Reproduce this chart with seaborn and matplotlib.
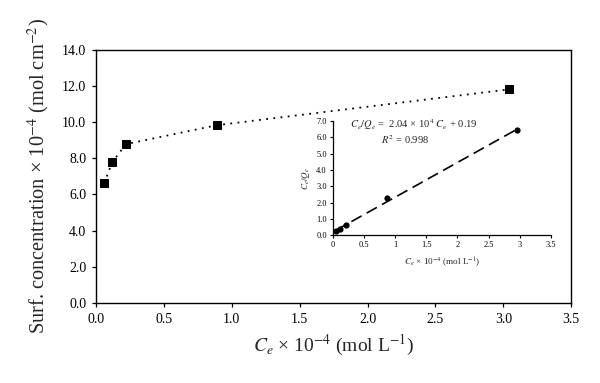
import matplotlib
matplotlib.use("Agg")
import matplotlib.pyplot as plt
import seaborn as sns
import pandas as pd

# Main isotherm data
ce_main = [0.06, 0.12, 0.22, 0.89, 3.04]
surf_conc = [6.62, 7.79, 8.78, 9.83, 11.81]

# Inset linearised (Langmuir) data
ce_inset = [0.05, 0.11, 0.21, 0.87, 2.96]
ce_over_qe = [0.25, 0.38, 0.62, 2.25, 6.45]

main_yticks = [0, 2, 4, 6, 8, 10, 12, 14]
main_xticks = [0, 0.5, 1.0, 1.5, 2.0, 2.5, 3.0, 3.5]
inset_xticks = [0, 0.5, 1, 1.5, 2, 2.5, 3, 3.5]
inset_xticklabels = ["0", "0.5", "1", "1.5", "2", "2.5", "3", "3.5"]
inset_yticks = [0, 1, 2, 3, 4, 5, 6, 7]

sns.set_theme(style="ticks")
plt.rcParams["font.family"] = ["Liberation Serif", "DejaVu Serif"]
plt.rcParams["mathtext.fontset"] = "stix"

fig = plt.figure(figsize=(6.0, 3.83), dpi=100)
ax = fig.add_axes([0.160, 0.209, 0.792, 0.661])

df_main = pd.DataFrame({"x": ce_main, "y": surf_conc})
sns.lineplot(data=df_main, x="x", y="y", ax=ax, color="black", linestyle=(0, (1, 3)),
             linewidth=1.3, marker="s", markersize=5.6, markeredgecolor="black",
             markerfacecolor="black")

ax.set_xlim(0, 3.5)
ax.set_ylim(0, 14)
ax.set_xticks(main_xticks)
ax.set_xticklabels([f"{v:.1f}" for v in main_xticks])
ax.set_yticks(main_yticks)
ax.set_yticklabels([f"{v:.1f}" for v in main_yticks])
ax.tick_params(axis="both", direction="out", length=3, width=0.9, labelsize=10, colors="black", pad=4)
for s in ax.spines.values():
    s.set_linewidth(1.0)
    s.set_color("black")
ax.set_xlabel(r"$C_e$ × 10$^{-4}$ (mol L$^{-1}$)", fontsize=14, labelpad=5)
ax.set_ylabel(r"Surf. concentration × 10$^{-4}$ (mol cm$^{-2}$)", fontsize=14.7, labelpad=7)

# Inset
ins = fig.add_axes([0.555, 0.386, 0.363, 0.298])
df_in = pd.DataFrame({"x": ce_inset, "y": ce_over_qe})
sns.regplot(data=df_in, x="x", y="y", ax=ins, ci=None, color="black",
            scatter_kws={"s": 12, "color": "black", "alpha": 1},
            line_kws={"linestyle": (0, (7, 3.5)), "linewidth": 1.2, "color": "black"})
ins.set_xlim(0, 3.5)
ins.set_ylim(0, 7)
ins.set_xticks(inset_xticks)
ins.set_xticklabels(inset_xticklabels)
ins.set_yticks(inset_yticks)
ins.set_yticklabels([f"{v:.1f}" for v in inset_yticks])
ins.tick_params(axis="both", direction="out", length=2.5, width=0.8, labelsize=6, colors="black", pad=2)
ins.spines["top"].set_visible(False)
ins.spines["right"].set_visible(False)
for k in ("left", "bottom"):
    ins.spines[k].set_linewidth(0.9)
    ins.spines[k].set_color("black")
ins.set_facecolor("none")
ins.set_xlabel(r"$C_e$ × 10$^{-4}$ (mol L$^{-1}$)", fontsize=6.6, labelpad=4)
ins.set_ylabel(r"$C_e/Q_e$", fontsize=6.6, labelpad=3)
ins.text(0.28, 6.8, r"$C_e/Q_e$ =  2.04 × 10$^4$ $C_e$ + 0.19", fontsize=7.6, va="center", ha="left")
ins.text(1.16, 5.87, r"$R^2$ = 0.998", fontsize=7.6, va="center", ha="center")

fig.savefig("out.png", dpi=100)
